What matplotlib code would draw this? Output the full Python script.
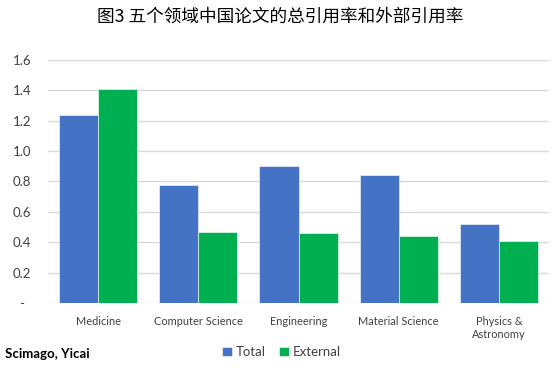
import matplotlib
matplotlib.use("Agg")
import matplotlib.pyplot as plt
import numpy as np

categories = ["Medicine", "Computer Science", "Engineering", "Material Science", "Physics &\nAstronomy"]
total = [1.24, 0.78, 0.90, 0.84, 0.52]
external = [1.41, 0.47, 0.46, 0.44, 0.41]
yticks = [0, 0.2, 0.4, 0.6, 0.8, 1.0, 1.2, 1.4, 1.6]
ytick_labels = ["-  ", "0.2", "0.4", "0.6", "0.8", "1.0", "1.2", "1.4", "1.6"]
title = "图3 五个领域中国论文的总引用率和外部引用率"
source = "Scimago, Yicai"

plt.rcParams['font.family'] = ['Lato', 'DejaVu Sans']

fig = plt.figure(figsize=(5.58, 3.70), dpi=100)
ax = fig.add_axes([0.086, 0.181, 0.898, 0.657])

x = np.arange(len(categories))
w = 0.39
ax.bar(x - w/2, total, width=w, color="#4472C4", edgecolor="white", linewidth=0.4, label="Total", zorder=3)
ax.bar(x + w/2, external, width=w, color="#00B050", edgecolor="white", linewidth=0.4, label="External", zorder=3)

ax.set_xlim(-0.5, len(categories) - 0.5)
ax.set_ylim(0, 1.6)
ax.set_yticks(yticks)
ax.set_yticklabels(ytick_labels)
ax.set_xticks(x)
ax.set_xticklabels(categories, linespacing=1.3)
ax.tick_params(axis='y', length=0, pad=12, labelsize=9.5, labelcolor="#404040")
ax.tick_params(axis='x', length=0, pad=9, labelsize=7.9, labelcolor="#404040")
for s in ax.spines.values():
    s.set_visible(False)
ax.yaxis.grid(True, color="#d9d9d9", linewidth=1.0, zorder=0)
ax.set_axisbelow(True)

fig.text(0.502, 0.955, title, ha='center', va='center', fontsize=12.7,
         family=['Noto Sans CJK SC', 'DejaVu Sans'], weight='medium', color="black")
fig.text(0.009, 0.043, source, ha='left', va='center', fontsize=9.5, weight='bold', color="black")

leg = fig.legend(loc='center', bbox_to_anchor=(0.505, 0.048), ncol=2, frameon=False,
                 fontsize=9.5, handlelength=0.75, handleheight=0.75, handletextpad=0.3,
                 columnspacing=1.0, labelcolor="#404040")

fig.savefig("out.png", dpi=100)
